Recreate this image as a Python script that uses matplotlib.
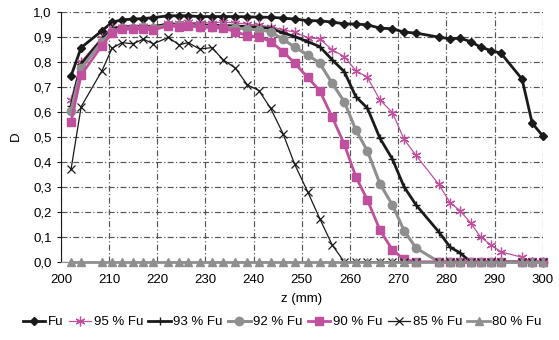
import matplotlib.pyplot as plt
from matplotlib.ticker import FuncFormatter

plt.rcParams["font.family"] = ["Liberation Sans", "DejaVu Sans"]

# =========================
# DATA
# =========================

z = [202.1, 204.2, 208.5, 210.6, 212.7, 214.9, 217.1, 219.2, 222.3, 224.5,
     226.4, 228.8, 231.3, 233.7, 236.2, 238.7, 241.1, 243.5, 246.1, 248.5,
     251.2, 253.7, 256.3, 258.8, 261.2, 263.6, 266.2, 268.8, 271.2, 273.7,
     278.4, 280.8, 282.8, 285.0, 287.1, 289.3, 291.3, 295.7, 297.8, 300.0]

fu = [0.743, 0.856, 0.923, 0.957, 0.967, 0.970, 0.972, 0.976, 0.983, 0.983,
      0.983, 0.980, 0.980, 0.980, 0.980, 0.979, 0.978, 0.977, 0.974, 0.970,
      0.964, 0.963, 0.958, 0.951, 0.950, 0.947, 0.934, 0.931, 0.918, 0.914,
      0.898, 0.891, 0.894, 0.880, 0.858, 0.844, 0.834, 0.730, 0.554, 0.503]

fu95 = [0.647, 0.800, 0.895, 0.935, 0.940, 0.940, 0.942, 0.940, 0.955, 0.953,
        0.957, 0.955, 0.955, 0.958, 0.954, 0.950, 0.945, 0.940, 0.927, 0.918,
        0.896, 0.891, 0.847, 0.820, 0.764, 0.737, 0.647, 0.596, 0.490, 0.425,
        0.310, 0.235, 0.205, 0.156, 0.099, 0.067, 0.040, 0.018, 0.0, 0.0]

fu93 = [0.623, 0.790, 0.890, 0.930, 0.940, 0.940, 0.942, 0.940, 0.950, 0.948,
        0.950, 0.945, 0.945, 0.945, 0.942, 0.940, 0.937, 0.933, 0.915, 0.900,
        0.880, 0.860, 0.807, 0.760, 0.660, 0.614, 0.494, 0.410, 0.300, 0.227,
        0.120, 0.058, 0.036, 0.0, 0.0, 0.0, 0.0, 0.0, 0.0, 0.0]

fu92 = [0.604, 0.773, 0.880, 0.920, 0.935, 0.935, 0.937, 0.935, 0.945, 0.945,
        0.947, 0.940, 0.940, 0.938, 0.935, 0.930, 0.927, 0.920, 0.889, 0.858,
        0.827, 0.794, 0.713, 0.640, 0.527, 0.443, 0.312, 0.227, 0.125, 0.055,
        0.0, 0.0, 0.0, 0.0, 0.0, 0.0, 0.0, 0.0, 0.0, 0.0]

fu90 = [0.560, 0.747, 0.864, 0.914, 0.930, 0.930, 0.930, 0.927, 0.943, 0.940,
        0.944, 0.937, 0.937, 0.933, 0.920, 0.903, 0.900, 0.880, 0.840, 0.794,
        0.737, 0.684, 0.578, 0.470, 0.340, 0.247, 0.127, 0.047, 0.010, 0.0,
        0.0, 0.0, 0.0, 0.0, 0.0, 0.0, 0.0, 0.0, 0.0, 0.0]

fu85 = [0.370, 0.620, 0.763, 0.853, 0.876, 0.871, 0.890, 0.871, 0.897, 0.867,
        0.876, 0.850, 0.856, 0.807, 0.774, 0.707, 0.684, 0.614, 0.512, 0.390,
        0.280, 0.173, 0.067, 0.0, 0.0, 0.0, 0.0, 0.0, 0.0, 0.0,
        0.0, 0.0, 0.0, 0.0, 0.0, 0.0, 0.0, 0.0, 0.0, 0.0]

fu80 = [0.0] * len(z)

labels = ["Fu", "95 % Fu", "93 % Fu", "92 % Fu", "90 % Fu", "85 % Fu", "80 % Fu"]

PINK = "#c0509e"
GRAY = "#8f8f8f"

# =========================
# PLOT
# =========================

fig = plt.figure(figsize=(5.59, 3.4), dpi=100)
ax = fig.add_axes([0.109, 0.230, 0.862, 0.736])

ax.plot(z, fu, color="#1a1a1a", lw=2, marker="D", ms=4.5, label=labels[0], clip_on=False)
ax.plot(z, fu95, color=PINK, lw=0.9, marker=(6, 2, 0), ms=7, mew=0.9, label=labels[1], clip_on=False)
ax.plot(z, fu93, color="#1a1a1a", lw=2, marker="+", ms=6, mew=1, label=labels[2], clip_on=False)
ax.plot(z, fu92, color=GRAY, lw=2.2, marker="o", ms=6, label=labels[3], clip_on=False)
ax.plot(z, fu90, color=PINK, lw=2, marker="s", ms=6, label=labels[4], clip_on=False)
ax.plot(z, fu85, color="#1a1a1a", lw=0.9, marker="x", ms=5.5, mew=0.9, label=labels[5], clip_on=False)
ax.plot(z, fu80, color=GRAY, lw=2, marker="^", ms=6, label=labels[6], clip_on=False)

ax.set_xlim(200, 300)
ax.set_ylim(0, 1.0)
ax.set_xticks(range(200, 301, 10))
ax.set_yticks([i / 10 for i in range(11)])
ax.yaxis.set_major_formatter(FuncFormatter(lambda v, p: f"{v:.1f}".replace(".", ",")))

ax.grid(True, color="#555555", lw=0.85, linestyle=(0, (5, 2, 1, 2)))
ax.set_axisbelow(True)
for s in ["top", "right"]:
    ax.spines[s].set_visible(False)
ax.spines["left"].set_color("#1a1a1a")
ax.spines["bottom"].set_color(GRAY)

ax.tick_params(axis="both", labelsize=9.5, length=3, color="#1a1a1a")
ax.tick_params(axis="x", length=0, pad=9)

ax.set_xlabel("z (mm)", fontsize=9.5, labelpad=5)
ax.set_ylabel("D", fontsize=9.5, labelpad=8)

fig.legend(loc="lower center", bbox_to_anchor=(0.505, 0.0), ncol=7, frameon=False,
           fontsize=9.5, handlelength=1.7, handletextpad=0.2, columnspacing=0.4)

fig.savefig("out.png", dpi=100)
